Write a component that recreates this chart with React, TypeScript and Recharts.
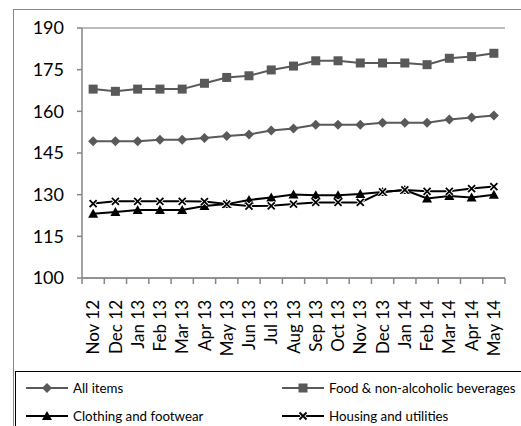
import React from 'react';
import { LineChart, Line, XAxis, YAxis, CartesianGrid } from 'recharts';

const months = ['Nov 12', 'Dec 12', 'Jan 13', 'Feb 13', 'Mar 13', 'Apr 13', 'May 13', 'Jun 13', 'Jul 13', 'Aug 13', 'Sep 13', 'Oct 13', 'Nov 13', 'Dec 13', 'Jan 14', 'Feb 14', 'Mar 14', 'Apr 14', 'May 14'];
const allItems = [149.2, 149.2, 149.2, 149.8, 149.8, 150.4, 151.1, 151.7, 153.1, 153.8, 155.2, 155.2, 155.2, 155.9, 155.9, 155.9, 157.1, 157.8, 158.5];
const food = [168.0, 167.2, 168.0, 168.0, 168.0, 170.1, 172.2, 172.8, 174.9, 176.3, 178.2, 178.2, 177.4, 177.4, 177.4, 176.8, 179.1, 179.7, 180.9];
const clothing = [123.1, 123.8, 124.5, 124.5, 124.5, 125.9, 126.6, 128.1, 129.0, 130.1, 129.8, 129.8, 130.2, 131.0, 131.7, 128.6, 129.5, 129.0, 130.0];
const housing = [126.8, 127.6, 127.6, 127.6, 127.6, 127.5, 126.6, 125.9, 126.0, 126.6, 127.2, 127.2, 127.2, 131.0, 131.7, 131.2, 131.2, 132.2, 132.9];
const yTicks = [100, 115, 130, 145, 160, 175, 190];

const seriesNames = ['All items', 'Food & non-alcoholic beverages', 'Clothing and footwear', 'Housing and utilities'];

const data = months.map((m, i) => ({
  month: m,
  all: allItems[i],
  food: food[i],
  clothing: clothing[i],
  housing: housing[i],
}));

const GRAY = '#595959';
const FONT = 'Lato, "DejaVu Sans", sans-serif';

type MP = { cx: number; cy: number; color: string };
const Diamond = ({ cx, cy, color }: MP) => (
  <path d={`M${cx},${cy - 5} L${cx + 5},${cy} L${cx},${cy + 5} L${cx - 5},${cy} Z`} fill={color} />
);
const Square = ({ cx, cy, color }: MP) => (
  <rect x={cx - 4.5} y={cy - 4.5} width={9} height={9} fill={color} />
);
const Triangle = ({ cx, cy, color }: MP) => (
  <path d={`M${cx},${cy - 5} L${cx + 5},${cy + 4} L${cx - 5},${cy + 4} Z`} fill={color} />
);
const Cross = ({ cx, cy, color }: MP) => (
  <g>
    <path d={`M${cx - 3.5},${cy - 3.5} L${cx + 3.5},${cy + 3.5} M${cx + 3.5},${cy - 3.5} L${cx - 3.5},${cy + 3.5}`} stroke="#fff" strokeWidth={3.5} />
    <path d={`M${cx - 3.5},${cy - 3.5} L${cx + 3.5},${cy + 3.5} M${cx + 3.5},${cy - 3.5} L${cx - 3.5},${cy + 3.5}`} stroke={color} strokeWidth={1.8} />
  </g>
);

const mkDot = (Comp: any, color: string) => (props: any) => (
  <Comp key={`d-${props.index}`} cx={props.cx} cy={props.cy} color={color} />
);

const BW = 422 / 19;

const XTick = (props: any) => {
  const { x, payload, index } = props;
  const isLast = index === months.length - 1;
  return (
    <g>
      <line x1={x - BW / 2} x2={x - BW / 2} y1={278} y2={284} stroke="#868686" strokeWidth={1.5} />
      {isLast && <line x1={x + BW / 2} x2={x + BW / 2} y1={278} y2={284} stroke="#868686" strokeWidth={1.5} />}
      <g transform={`translate(${x},${278})`}>
        <text transform="rotate(-90)" x={-22} y={0} dy="0.36em" textAnchor="end" fontSize={17} fill="#000" fontFamily={FONT}>
          {payload.value}
        </text>
      </g>
    </g>
  );
};

const LegendRow = ({ x, y, Marker, color, label }: any) => (
  <g>
    <line x1={x} x2={x + 42} y1={y} y2={y} stroke={color} strokeWidth={2} />
    <Marker cx={x + 21} cy={y} color={color} />
    <text x={x + 47} y={y} dy="0.35em" fontSize={13.3} fill="#000" fontFamily={FONT}>{label}</text>
  </g>
);

export default function App() {
  return (
    <div style={{ position: 'absolute', left: 0, top: 0, width: 521, height: 426, overflow: 'hidden', background: '#fff' }}>
      <div style={{ position: 'absolute', left: 13, top: 9, width: 530, height: 440, border: '1px solid #888', boxSizing: 'border-box' }} />
      <div style={{ position: 'absolute', left: 0, top: 0 }}>
        <LineChart width={521} height={426} data={data} margin={{ top: 28, right: 16, left: 0, bottom: 0 }} style={{ fontFamily: FONT }}>
          <CartesianGrid vertical={false} stroke="#a6a6a6" strokeWidth={1.5} />
          <XAxis
            dataKey="month"
            scale="band"
            interval={0}
            height={148}
            tickSize={0}
            tickLine={false}
            axisLine={{ stroke: '#868686', strokeWidth: 1.5 }}
            tick={<XTick />}
          />
          <YAxis
            yAxisId="left"
            domain={[100, 190]}
            ticks={yTicks}
            width={82}
            tickSize={5}
            tickMargin={13}
            axisLine={{ stroke: '#868686', strokeWidth: 1.5 }}
            tickLine={{ stroke: '#868686', strokeWidth: 1.5 }}
            tick={{ fontSize: 18, fill: '#000', fontFamily: FONT }}
          />
          <YAxis
            yAxisId="right"
            orientation="right"
            domain={[100, 190]}
            width={0}
            tick={false}
            tickLine={false}
            axisLine={{ stroke: '#d9d9d9', strokeWidth: 1.5 }}
          />
          <Line yAxisId="left" dataKey="all" name={seriesNames[0]} stroke={GRAY} strokeWidth={2} dot={mkDot(Diamond, GRAY)} isAnimationActive={false} />
          <Line yAxisId="left" dataKey="food" name={seriesNames[1]} stroke={GRAY} strokeWidth={2} dot={mkDot(Square, GRAY)} isAnimationActive={false} />
          <Line yAxisId="left" dataKey="clothing" name={seriesNames[2]} stroke="#000" strokeWidth={2} dot={mkDot(Triangle, '#000')} isAnimationActive={false} />
          <Line yAxisId="left" dataKey="housing" name={seriesNames[3]} stroke="#000" strokeWidth={2} dot={mkDot(Cross, '#000')} isAnimationActive={false} />
        </LineChart>
      </div>
      <div style={{ position: 'absolute', left: 15, top: 371, width: 530, height: 70, border: '1px solid #000', boxSizing: 'border-box' }} />
      <svg width={521} height={426} style={{ position: 'absolute', left: 0, top: 0, pointerEvents: 'none' }}>
        <LegendRow x={26} y={388} Marker={Diamond} color={GRAY} label={seriesNames[0]} />
        <LegendRow x={282} y={388} Marker={Square} color={GRAY} label={seriesNames[1]} />
        <LegendRow x={26} y={416} Marker={Triangle} color="#000" label={seriesNames[2]} />
        <LegendRow x={282} y={416} Marker={Cross} color="#000" label={seriesNames[3]} />
      </svg>
    </div>
  );
}
